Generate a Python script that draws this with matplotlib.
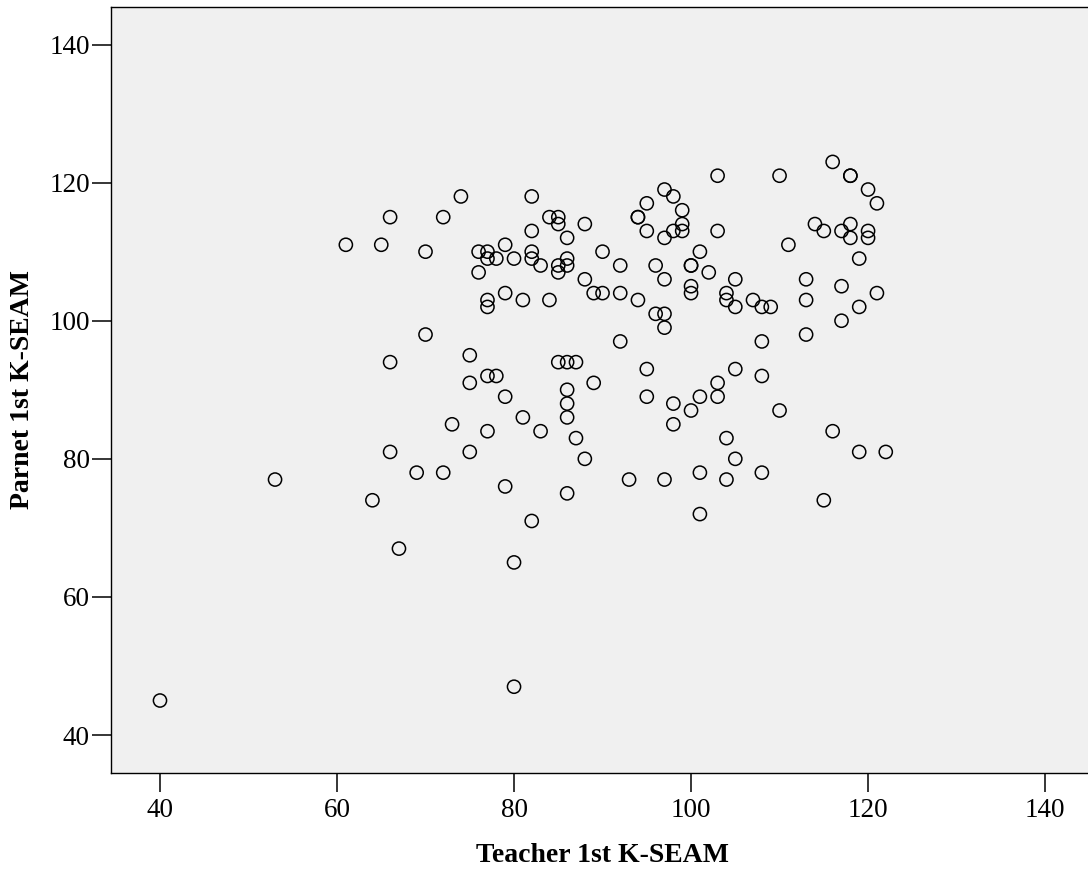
import matplotlib
matplotlib.use('Agg')
import matplotlib.pyplot as plt

# Puntuaciones K-SEAM (maestro vs. padres)
teacher = [40, 53, 61, 65, 66, 66, 66, 64, 67, 70, 70, 69, 72, 72, 73, 74,
           75, 75, 75, 76, 76, 77, 77, 77, 77, 77, 77, 78, 78, 79, 79, 79, 79,
           80, 80, 80, 81, 81, 82, 82, 82, 82, 82, 83, 83, 84, 84, 85, 85, 85,
           85, 85, 86, 86, 86, 86, 86, 86, 86, 86, 87, 87, 88, 88, 88, 89, 89,
           90, 90, 92, 92, 92, 93, 94, 94, 94, 95, 95, 95, 95, 96, 96, 97, 97,
           97, 97, 97, 97, 98, 98, 98, 98, 99, 99, 99, 100, 100, 100, 100, 100,
           101, 101, 101, 101, 102, 103, 103, 103, 103, 104, 104, 104, 104, 105,
           105, 105, 105, 107, 108, 108, 108, 108, 109, 110, 110, 111, 113, 113,
           113, 114, 115, 115, 116, 116, 117, 117, 117, 118, 118, 118, 118, 119,
           119, 119, 120, 120, 120, 121, 121, 122]
parent = [45, 77, 111, 111, 115, 94, 81, 74, 67, 110, 98, 78, 115, 78, 85, 118,
          95, 91, 81, 110, 107, 110, 109, 103, 102, 92, 84, 109, 92, 111, 104, 89, 76,
          109, 65, 47, 103, 86, 118, 113, 110, 109, 71, 108, 84, 115, 103, 115, 114, 108,
          107, 94, 112, 109, 108, 94, 90, 88, 86, 75, 94, 83, 114, 106, 80, 104, 91,
          110, 104, 108, 104, 97, 77, 115, 115, 103, 117, 113, 93, 89, 108, 101, 119, 112,
          106, 101, 99, 77, 118, 113, 88, 85, 116, 114, 113, 108, 108, 105, 104, 87,
          110, 89, 78, 72, 107, 121, 113, 91, 89, 104, 103, 83, 77, 106,
          102, 93, 80, 103, 102, 97, 92, 78, 102, 121, 87, 111, 106, 103,
          98, 114, 113, 74, 123, 84, 113, 105, 100, 121, 121, 114, 112, 102,
          109, 81, 119, 113, 112, 117, 104, 81]

xticks = [40, 60, 80, 100, 120, 140]
yticks = [40, 60, 80, 100, 120, 140]

plt.rcParams['font.family'] = ['Liberation Serif', 'DejaVu Serif']

fig = plt.figure(figsize=(10.88, 8.72), dpi=100)
ax = fig.add_axes([0.1023, 0.1135, 0.9030, 0.879])
ax.set_facecolor('#f0f0f0')

ax.scatter(teacher, parent, s=90, facecolors='none', edgecolors='black',
           linewidths=1.1, zorder=3)

ax.set_xlim(34.5, 145.5)
ax.set_ylim(34.5, 145.5)
ax.set_xticks(xticks)
ax.set_yticks(yticks)
ax.tick_params(direction='out', length=14, width=1.1, labelsize=19.5)
ax.tick_params(axis='x', pad=4)
ax.tick_params(axis='y', pad=1.5)
for s in ax.spines.values():
    s.set_linewidth(1.0)

xl = ax.set_xlabel('Teacher 1st K-SEAM', fontsize=20, fontweight='bold')
yl = ax.set_ylabel('Parnet 1st K-SEAM', fontsize=20, fontweight='bold')
xl.set_va('center')
yl.set_va('center')
ax.xaxis.set_label_coords(0.5, -0.108)
ax.yaxis.set_label_coords(-0.0899, 0.5)

fig.savefig('out.png', dpi=100)
